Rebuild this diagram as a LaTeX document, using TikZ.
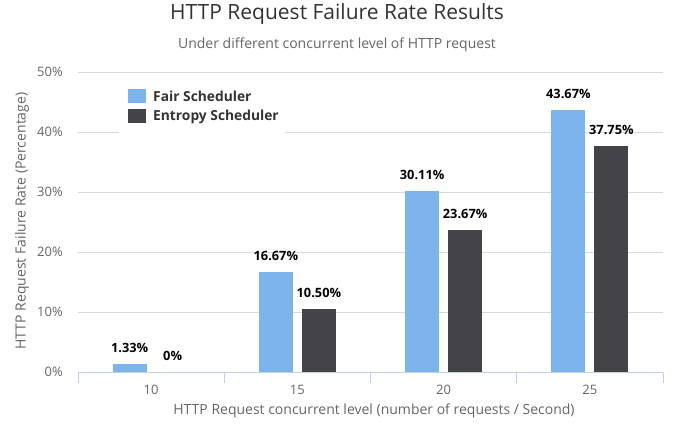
\documentclass[tikz,border=0pt]{standalone}
\usepackage{fontspec}
\setmainfont{Open Sans}
\definecolor{fairc}{HTML}{7CB5EC}
\definecolor{entc}{HTML}{434348}
\definecolor{gridc}{HTML}{D8D8D8}
\definecolor{axisc}{HTML}{C0D0E0}
\definecolor{labc}{HTML}{666666}
\definecolor{titc}{HTML}{333333}
\begin{document}
\begin{tikzpicture}[x=1pt,y=-1pt,
  gridline/.style={draw=gridc,line width=0.8pt},
  axisline/.style={draw=axisc,line width=1pt},
  fairbar/.style={fill=fairc},
  entbar/.style={fill=entc},
  vallab/.style={font=\fontsize{12.8}{15}\selectfont\bfseries,text=black,inner sep=0pt},
  ticklab/.style={font=\fontsize{13}{15}\selectfont,text=labc,inner sep=0pt},
  axtitle/.style={font=\fontsize{14}{17}\selectfont,text=labc,inner sep=0pt},
  leglab/.style={font=\fontsize{13.8}{16}\selectfont\bfseries,text=titc,inner sep=0pt,anchor=west}]
\useasboundingbox (0,0) rectangle (677,428);
\fill[white] (0,0) rectangle (677,428);
% title
\node[font=\fontsize{21}{25}\selectfont,text=titc,inner sep=0pt] (title) at (337,14) {HTTP Request Failure Rate Results};
\node[axtitle] (subtitle) at (337,45) {Under different concurrent level of HTTP request};
% grid lines and y labels
\foreach \v/\lab in {1/10,2/20,3/30,4/40,5/50}{
  \draw[gridline] (78,372-60*\v) -- (663,372-60*\v);
  \node[ticklab,anchor=east] (y\lab) at (63,372-60*\v) {\lab\%};
}
\node[ticklab,anchor=east] (y0) at (63,372) {0\%};
% bars
\foreach \i/\f/\e/\fl/\el in {0/1.33/0/1.33\%/0\%,1/16.67/10.50/16.67\%/10.50\%,2/30.11/23.67/30.11\%/23.67\%,3/43.67/37.75/43.67\%/37.75\%}{
  \pgfmathsetmacro{\c}{78+146.25*(\i+0.5)}
  \pgfmathsetmacro{\ft}{372-6*\f}
  \pgfmathsetmacro{\et}{372-6*\e}
  \fill[fairbar] (\c-38.5,372) rectangle (\c-4.5,\ft);
  \ifdim \e pt>0pt \fill[entbar] (\c+4.5,372) rectangle (\c+38.5,\et); \fi
  \node[vallab] (fl\i) at (\c-21.5,\ft-16) {\fl};
  \node[vallab] (el\i) at (\c+21.5,\et-16) {\el};
}
% x axis
\draw[axisline] (78,372.5) -- (663,372.5);
\foreach \i in {0,...,4}{
  \draw[axisline] (78+146.25*\i,372.5) -- (78+146.25*\i,383);
}
\foreach \i/\lab in {0/10,1/15,2/20,3/25}{
  \node[ticklab] (x\lab) at (78+146.25*\i+73.1,390) {\lab};
}
% axis titles
\node[axtitle] (xtitle) at (374,411) {HTTP Request concurrent level (number of requests / Second)};
\node[axtitle,rotate=90] (ytitle) at (22,221) {HTTP Request Failure Rate (Percentage)};
% legend
\fill[white] (119,80) rectangle (285,134);
\fill[fairc] (128,89) rectangle (146,103);
\fill[entc] (128,109) rectangle (146,123);
\node[leglab] (lfair) at (153,96.5) {Fair Scheduler};
\node[leglab] (lent) at (153,116.5) {Entropy Scheduler};
\end{tikzpicture}
\end{document}
